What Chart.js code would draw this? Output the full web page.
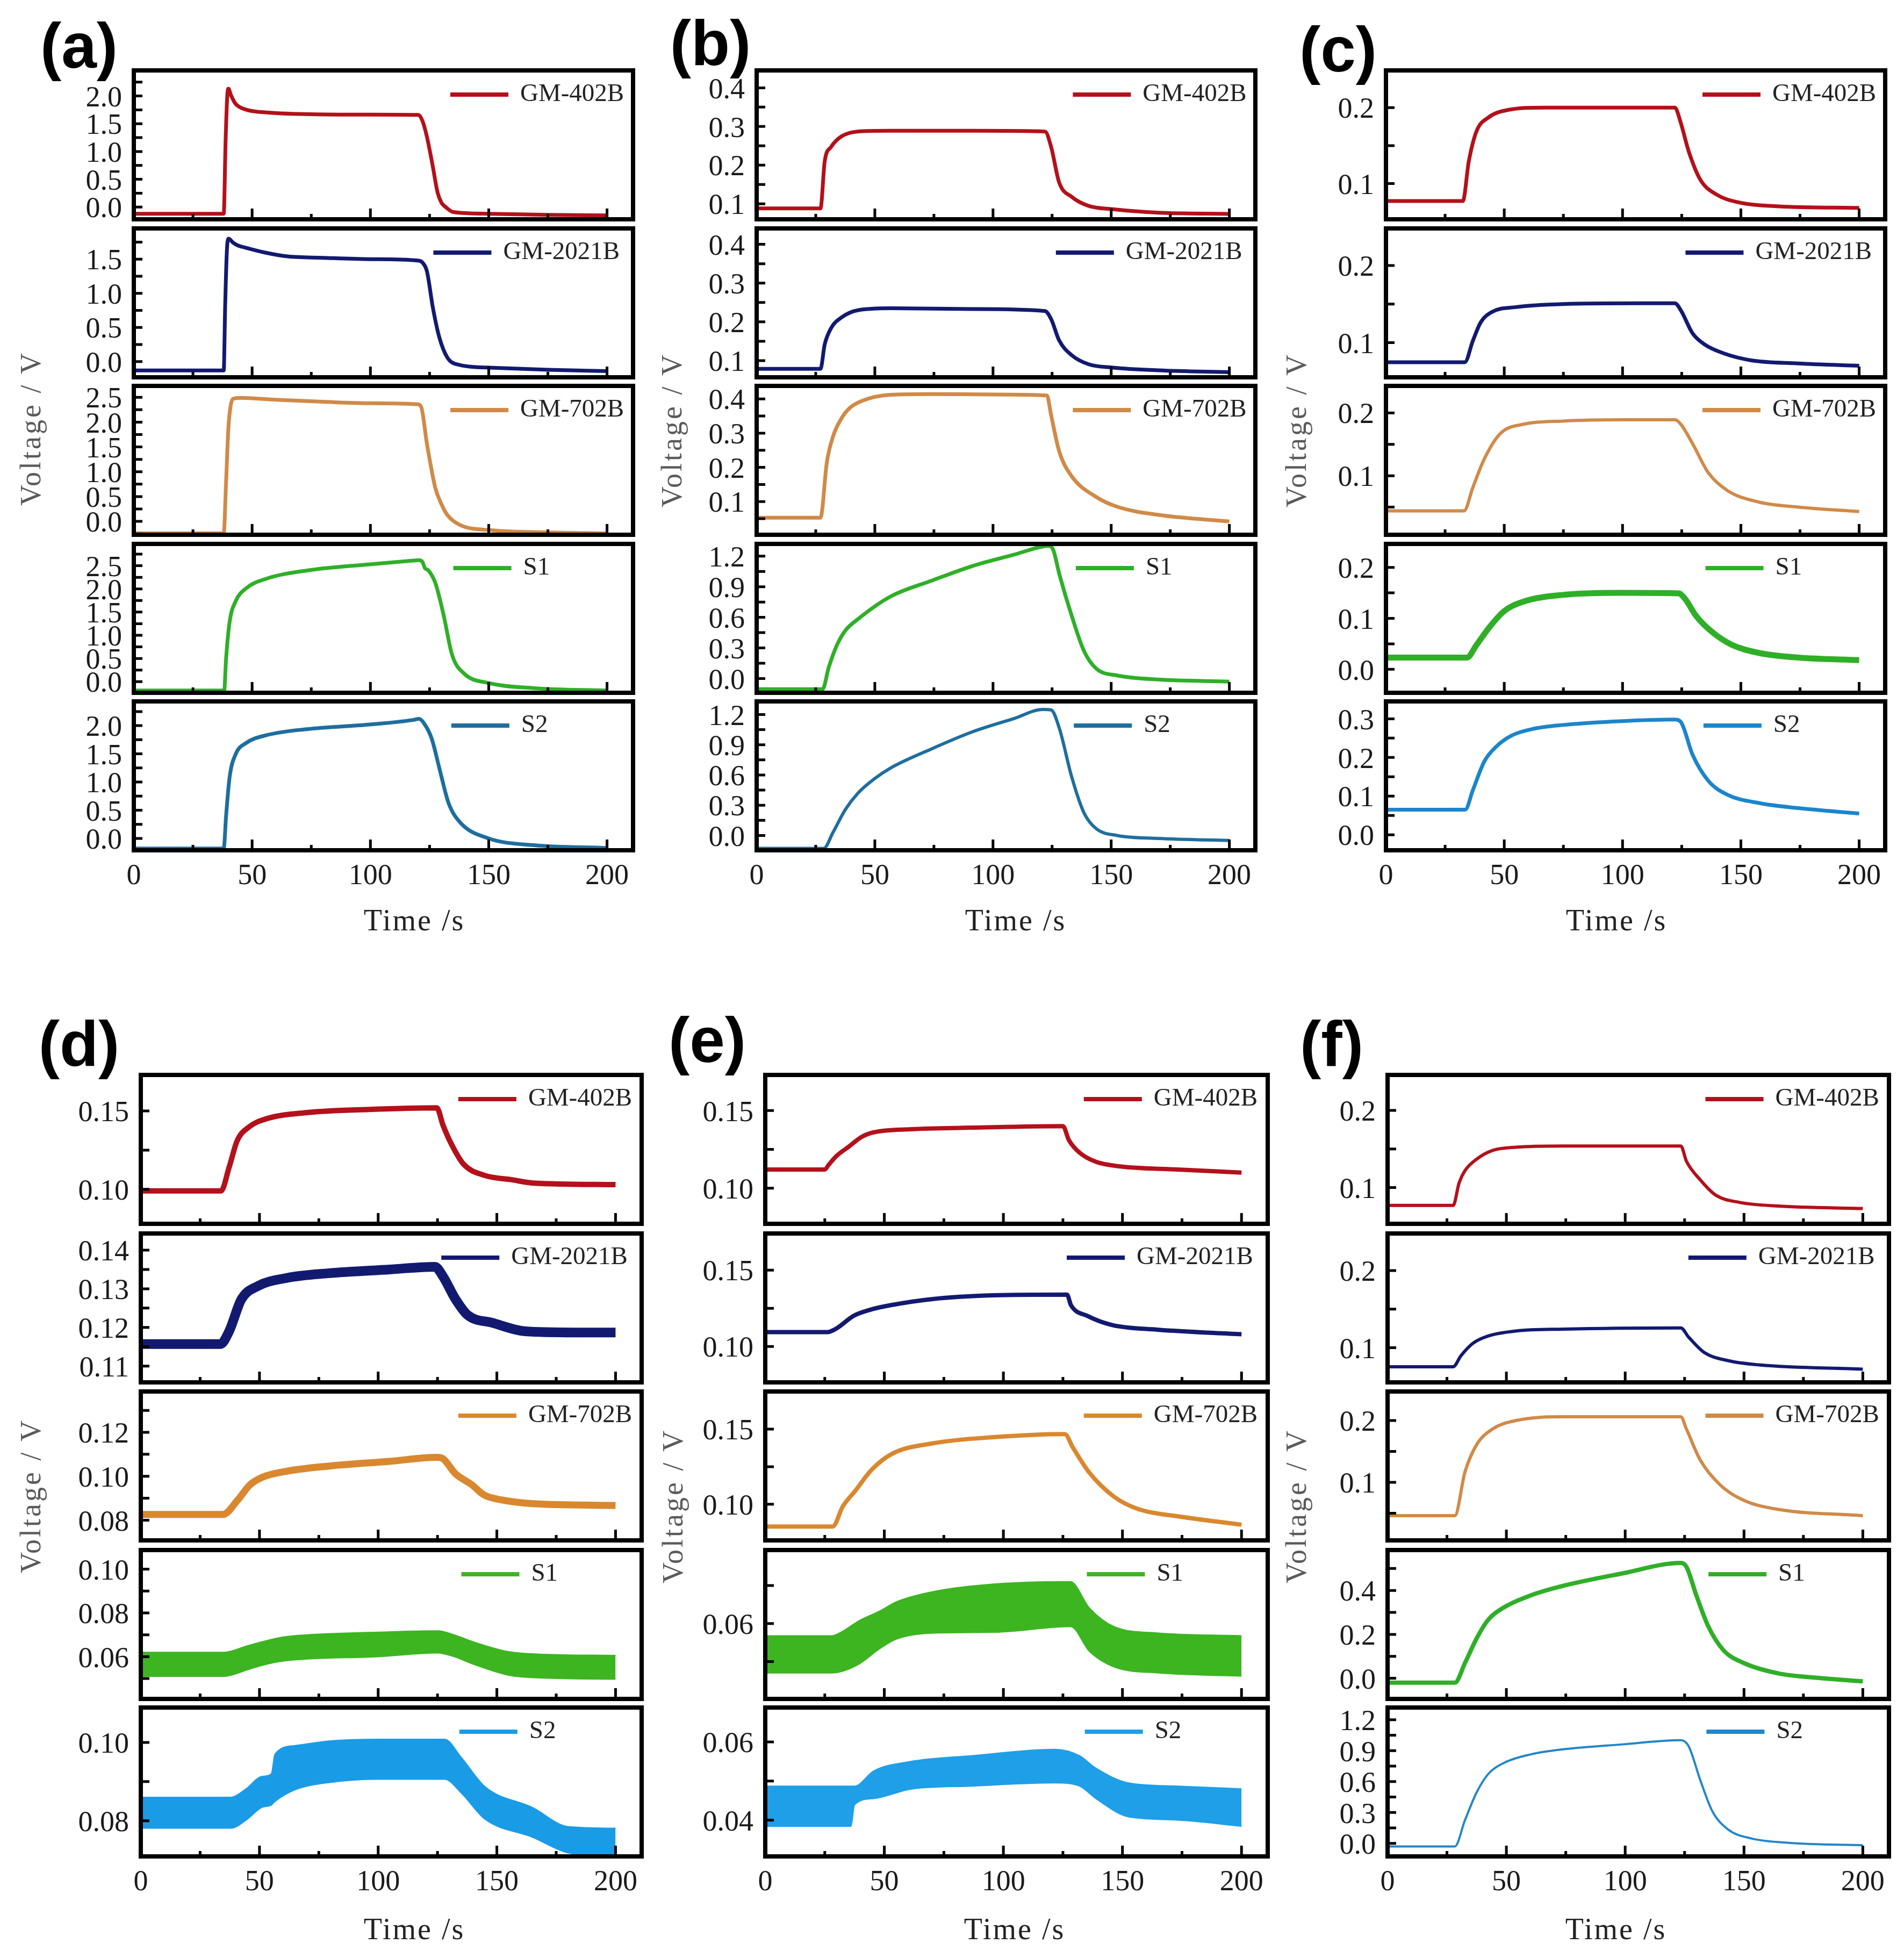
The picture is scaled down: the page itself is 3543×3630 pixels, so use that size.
<!DOCTYPE html>
<html>
<head>
<meta charset="utf-8">
<script src="https://cdn.jsdelivr.net/npm/chart.js"></script>
<style>
  html, body { margin: 0; padding: 0; background: #fff; }
  #page { position: relative; width: 3543px; height: 3630px; overflow: hidden; background: #fff; }
  .plab { position: absolute; font: bold 118px "Liberation Sans", Arial, sans-serif; line-height: 1; color: #000; transform: translate(-50%, -50%); white-space: nowrap; }
  .xtitle { position: absolute; font: 56px "Liberation Serif", serif; letter-spacing: 3px; line-height: 1; color: #222; transform: translate(-50%, -50%); white-space: nowrap; }
  .ytitle { position: absolute; font: 54px "Liberation Serif", serif; letter-spacing: 4px; line-height: 1; color: #5a5a5a; transform: translate(-50%, -50%) rotate(-90deg); white-space: nowrap; }
  canvas { position: absolute; }
</style>
</head>
<body>
<div id="page"></div>
<script>
// ---- data: [time s, voltage V] ----
const A_GM402B  = [[0,-0.12],[38,-0.12],[38.8,1.2],[39.5,2.0],[40,2.13],[41,2.02],[43,1.86],[47,1.76],[57,1.70],[77,1.67],[100,1.665],[120.3,1.66],[122,1.55],[123.8,1.28],[126.2,0.77],[128.4,0.26],[130,0.08],[131.8,0.0],[135,-0.09],[150,-0.12],[175,-0.14],[200,-0.15]];
const A_GM2021B = [[0,-0.13],[38,-0.13],[38.6,0.8],[39.3,1.6],[40,1.80],[42,1.74],[44,1.70],[47,1.67],[55,1.60],[65,1.54],[80,1.52],[100,1.50],[120,1.48],[122,1.45],[123.9,1.32],[126.4,0.79],[129,0.37],[132.5,0.06],[137.8,-0.05],[151.7,-0.09],[175,-0.12],[200,-0.14]];
const A_GM702B  = [[0,-0.24],[38,-0.24],[39,0.8],[40,1.9],[41,2.35],[42,2.47],[45,2.49],[60,2.45],[80,2.41],[100,2.38],[120,2.36],[121.5,2.3],[123.9,1.56],[127.4,0.68],[130,0.35],[132.5,0.13],[137.8,-0.07],[151.7,-0.18],[175,-0.22],[200,-0.24]];
const A_S1      = [[0,-0.19],[38.2,-0.19],[39,0.5],[40.5,1.29],[43,1.73],[47.4,2.01],[56,2.22],[73.6,2.40],[99.7,2.53],[118,2.61],[120.5,2.62],[122,2.58],[123,2.45],[124.5,2.40],[127.5,2.12],[131,1.42],[134.5,0.58],[139.7,0.17],[150,-0.03],[169,-0.14],[200,-0.19]];
const A_S2      = [[0,-0.18],[38,-0.18],[39,0.4],[40.5,1.09],[43,1.49],[47.4,1.69],[56,1.83],[73.6,1.94],[99.7,2.02],[118,2.10],[120.5,2.12],[122.5,2.05],[125.9,1.77],[129.4,1.2],[133,0.63],[138,0.28],[150,0.0],[169,-0.12],[200,-0.17]];

const B_GM402B  = [[0,0.088],[27,0.088],[28.8,0.21],[31.5,0.247],[35.8,0.274],[42.8,0.287],[56.7,0.289],[91.5,0.289],[122,0.287],[124.6,0.247],[128,0.155],[133.3,0.118],[140.3,0.095],[150.7,0.086],[170,0.077],[200,0.074]];
const B_GM2021B = [[0,0.079],[27,0.079],[28.8,0.142],[31.5,0.184],[35.8,0.211],[42.8,0.23],[56.7,0.235],[91.5,0.233],[122,0.228],[124.6,0.207],[128,0.152],[133.3,0.114],[140.3,0.091],[150.7,0.082],[170,0.075],[200,0.07]];
const B_GM702B  = [[0,0.053],[27,0.053],[29.7,0.215],[32.3,0.29],[35.8,0.342],[39.3,0.373],[44.5,0.394],[56.7,0.412],[74.1,0.414],[100.2,0.413],[122.8,0.41],[124.6,0.352],[128,0.247],[133.3,0.174],[143.8,0.113],[152.5,0.085],[170,0.061],[200,0.042]];
const B_S1      = [[0,-0.104],[27.9,-0.104],[30.5,0.11],[34,0.33],[37.5,0.47],[42.7,0.58],[56.7,0.805],[74.1,0.96],[91.5,1.105],[108.9,1.215],[121.1,1.295],[123.5,1.3],[125.5,1.26],[128.1,1.02],[133.3,0.615],[138.5,0.27],[143.8,0.095],[152.5,0.03],[170,-0.01],[200,-0.03]];
const B_S2      = [[0,-0.128],[28.4,-0.128],[32.3,0.03],[37.5,0.256],[42.7,0.416],[49.7,0.56],[56.7,0.67],[74.1,0.86],[91.5,1.03],[108.9,1.16],[121.1,1.25],[124.6,1.245],[128.1,1.06],[133.3,0.58],[138.5,0.224],[143.8,0.065],[152.5,0.0],[170,-0.03],[200,-0.05]];

const C_GM402B  = [[0,0.077],[32.5,0.077],[35,0.129],[38.3,0.169],[43.3,0.187],[51.6,0.197],[66.5,0.2],[108,0.2],[122.1,0.2],[124.6,0.18],[127.9,0.143],[132.9,0.105],[139.5,0.086],[149.4,0.075],[166,0.07],[200,0.068]];
const C_GM2021B = [[0,0.0745],[33.3,0.0745],[36.7,0.102],[40,0.126],[45,0.14],[54.9,0.146],[74.8,0.15],[108,0.151],[122.1,0.151],[124.6,0.142],[129.6,0.112],[134.5,0.098],[142.8,0.086],[154.4,0.077],[174.3,0.073],[200,0.07]];
const C_GM702B  = [[0,0.044],[33,0.044],[36.7,0.081],[41.6,0.127],[48.3,0.167],[58.2,0.182],[74.8,0.187],[99.7,0.189],[122.1,0.189],[124.6,0.182],[129.6,0.151],[136.2,0.105],[144.5,0.076],[157.7,0.058],[174.3,0.05],[200,0.043]];
const C_S1      = [[0,0.023],[34.2,0.023],[38.3,0.048],[43.3,0.08],[49.9,0.114],[58.2,0.133],[74.8,0.146],[99.7,0.15],[123.7,0.149],[126.3,0.139],[131.2,0.104],[137.9,0.073],[146.2,0.048],[157.8,0.032],[174.3,0.023],[200,0.018]];
const C_S2      = [[0,0.065],[33.5,0.065],[36.7,0.115],[41.6,0.19],[46.6,0.228],[53.2,0.257],[61.5,0.273],[74.8,0.284],[99.7,0.294],[122.1,0.298],[124.6,0.292],[129.6,0.207],[136.2,0.14],[144.5,0.103],[157.8,0.082],[174.3,0.069],[200,0.055]];

const D_GM402B  = [[0,0.099],[33.8,0.099],[37.2,0.114],[40.6,0.131],[45.8,0.14],[52.8,0.145],[70.1,0.149],[96.1,0.151],[124.7,0.152],[127.3,0.141],[130.8,0.129],[136,0.116],[144.6,0.109],[156.8,0.106],[165.4,0.104],[200,0.103]];
const D_GM2021B = [[0,0.1157],[33.5,0.1157],[37.2,0.119],[42.4,0.1273],[49.3,0.1307],[61.5,0.1328],[78.8,0.134],[104.8,0.135],[123.9,0.1357],[127.3,0.1332],[132.5,0.1274],[137.7,0.1232],[148.1,0.1212],[162,0.119],[182.8,0.1187],[200,0.1187]];
const D_GM702B  = [[0,0.0826],[34.6,0.0826],[40.7,0.089],[45.9,0.096],[51.1,0.0995],[61.5,0.1023],[78.8,0.1046],[104.8,0.1068],[124.7,0.1086],[127.3,0.108],[132.5,0.1012],[139.5,0.0961],[144.6,0.0915],[151.6,0.0893],[165.4,0.0875],[200,0.0867]];
// noisy traces: [time, upper edge, lower edge]
const D_S1      = [[0,0.062,0.051],[35,0.062,0.051],[45,0.065,0.054],[51,0.0668,0.056],[60,0.069,0.058],[70,0.070,0.0589],[100,0.0712,0.060],[125,0.0718,0.0617],[132,0.070,0.060],[140,0.0668,0.0566],[155,0.0623,0.0515],[170,0.0611,0.0502],[200,0.0606,0.0497]];
const D_S2      = [[0,0.086,0.0781],[38,0.086,0.0781],[44,0.088,0.080],[51,0.0913,0.0834],[55,0.092,0.084],[56.5,0.097,0.0849],[65,0.0992,0.0879],[80,0.1004,0.0898],[100,0.1008,0.0906],[128,0.1008,0.0906],[135,0.0962,0.0871],[145,0.0887,0.0804],[165,0.0834,0.0758],[180,0.0785,0.0718],[200,0.0781,0.0709]];

const E_GM402B  = [[0,0.112],[25,0.112],[26.6,0.115],[30.1,0.121],[35.3,0.127],[40.4,0.133],[45.6,0.136],[61.1,0.138],[87,0.139],[125,0.14],[127.5,0.131],[131.9,0.123],[138.8,0.117],[149.1,0.114],[173.3,0.112],[200,0.110]];
const E_GM2021B = [[0,0.1094],[26,0.1094],[30.1,0.112],[37,0.12],[43.9,0.124],[52.5,0.127],[69.8,0.131],[95.6,0.1335],[126.7,0.134],[128.4,0.127],[135.3,0.12],[145.7,0.114],[164.6,0.111],[200,0.108]];
const E_GM702B  = [[0,0.0852],[28.3,0.0852],[32.6,0.0987],[37.8,0.109],[44.7,0.123],[53.3,0.1336],[70.6,0.1406],[96.4,0.1447],[125.8,0.1467],[129.2,0.1377],[136.1,0.121],[146.5,0.105],[156.8,0.0967],[174.1,0.0918],[200,0.0864]];
const E_S1      = [[0,0.0568,0.047],[28,0.0568,0.047],[32.6,0.058,0.0475],[39.5,0.0608,0.0494],[48.1,0.0633,0.0534],[55,0.0657,0.0559],[70.6,0.0684,0.0575],[96.4,0.0704,0.0577],[128.2,0.0710,0.0592],[136.1,0.0641,0.0527],[146.5,0.0592,0.0486],[165.4,0.0575,0.047],[200,0.0568,0.0462]];
const E_S2      = [[0,0.0487,0.0384],[36,0.0487,0.0384],[37.5,0.0487,0.0439],[45.6,0.0526,0.0455],[61.1,0.055,0.0479],[87,0.0565,0.0487],[121.5,0.0581,0.0495],[131.9,0.0565,0.0487],[138.8,0.0533,0.0455],[152.6,0.0495,0.0408],[173.3,0.0487,0.04],[200,0.048,0.0384]];

const F_GM402B  = [[0,0.0768],[27.6,0.0768],[30.1,0.106],[32.6,0.122],[37.5,0.1368],[44.1,0.148],[54,0.1523],[73.8,0.1539],[123.4,0.1539],[125.8,0.134],[131.6,0.11],[138.2,0.09],[148.1,0.0808],[164.6,0.076],[200,0.0728]];
const F_GM2021B = [[0,0.0752],[27.6,0.0752],[30.9,0.0896],[35.9,0.1056],[42.4,0.1152],[54,0.1216],[73.8,0.124],[123.4,0.1256],[126.7,0.1136],[133.3,0.0936],[143.2,0.0832],[156.4,0.0776],[200,0.072]];
const F_GM702B  = [[0,0.046],[28.3,0.046],[32.6,0.117],[37.5,0.161],[44.1,0.1861],[54,0.2],[73.8,0.206],[123.4,0.206],[125.8,0.186],[131.6,0.136],[139.9,0.096],[149.8,0.071],[164.6,0.056],[200,0.046]];
const F_S1      = [[0,-0.02],[28.3,-0.02],[32.6,0.07],[37.5,0.182],[42.4,0.267],[49,0.323],[60.6,0.379],[73.8,0.421],[98.5,0.477],[123.4,0.525],[125.8,0.507],[129.9,0.379],[134.9,0.238],[141.5,0.126],[149.8,0.07],[164.6,0.022],[181.1,0.002],[200,-0.014]];
const F_S2      = [[0,-0.03],[28.3,-0.03],[32.6,0.227],[37.5,0.496],[42.4,0.675],[49,0.782],[60.6,0.866],[73.8,0.913],[98.5,0.961],[123.4,1.002],[126.7,0.943],[131.6,0.615],[136.6,0.316],[143.2,0.137],[153.1,0.048],[169.6,0.005],[200,-0.018]];

// ---- axes ----
const SERIES_NAMES = ['GM-402B', 'GM-2021B', 'GM-702B', 'S1', 'S2'];
const X_LABELS = ['0', '50', '100', '150', '200'];
const X_RANGE = [0, 211];

const A_YRANGE = [[-0.22,2.46],[-0.23,1.95],[-0.27,2.73],[-0.24,2.97],[-0.21,2.43]];
const A_YLABELS = [['0.0','0.5','1.0','1.5','2.0'],['0.0','0.5','1.0','1.5'],['0.0','0.5','1.0','1.5','2.0','2.5'],['0.0','0.5','1.0','1.5','2.0','2.5'],['0.0','0.5','1.0','1.5','2.0']];
const A_YMINOR = [0.25,0.25,0.25,0.25,0.25];

const B_YRANGE = [[0.06,0.445],[0.057,0.441],[0.003,0.438],[-0.14,1.32],[-0.147,1.33]];
const B_YLABELS = [['0.1','0.2','0.3','0.4'],['0.1','0.2','0.3','0.4'],['0.1','0.2','0.3','0.4'],['0.0','0.3','0.6','0.9','1.2'],['0.0','0.3','0.6','0.9','1.2']];
const B_YMINOR = [0.05,0.05,0.05,0.15,0.15];

const C_YRANGE = [[0.053,0.249],[0.055,0.248],[0.006,0.243],[-0.046,0.246],[-0.04,0.345]];
const C_YLABELS = [['0.1','0.2'],['0.1','0.2'],['0.1','0.2'],['0.0','0.1','0.2'],['0.0','0.1','0.2','0.3']];
const C_YMINOR = [0.05,0.05,0.05,0.05,0.05];

const D_YRANGE = [[0.078,0.173],[0.1058,0.1443],[0.0708,0.1386],[0.0407,0.1087],[0.0709,0.1089]];
const D_YLABELS = [['0.10','0.15'],['0.11','0.12','0.13','0.14'],['0.08','0.10','0.12'],['0.06','0.08','0.10'],['0.08','0.10']];
const D_YMINOR = [0.025,0.005,0.01,0.01,0.01];

const E_YRANGE = [[0.077,0.173],[0.0765,0.174],[0.076,0.175],[0.0402,0.0793],[0.0307,0.0688]];
const E_YLABELS = [['0.10','0.15'],['0.10','0.15'],['0.10','0.15'],['0.06'],['0.04','0.06']];
const E_YMINOR = [0.025,0.025,0.025,0.01,0.01];

const F_YRANGE = [[0.053,0.246],[0.055,0.248],[0.006,0.247],[-0.094,0.584],[-0.126,1.319]];
const F_YLABELS = [['0.1','0.2'],['0.1','0.2'],['0.1','0.2'],['0.0','0.2','0.4'],['0.0','0.3','0.6','0.9','1.2']];
const F_YMINOR = [0.05,0.05,0.05,0.1,0.15];

// ---- layout / style ----
const FRAME_H = 277;
const ROW_TOPS_UP = [131, 424.5, 718, 1011.5, 1305];
const ROW_TOPS_DN = [2000, 2294.5, 2589, 2883.5, 3177];
const YW = 200, PAD = 8, XH = 80;
const LEG_X = [0.634, 0.600, 0.634, 0.640, 0.636];
const TICK_FONT = { family: 'Liberation Serif', size: 54 };
const RED = '#B3111B', NAVY = '#121A70', TAN = '#D08A48', GREEN = '#2FAF28';

const PANELS = [
  { tag: '(a)', left: 249, right: 1178, tops: ROW_TOPS_UP, series: [A_GM402B, A_GM2021B, A_GM702B, A_S1, A_S2],
    yr: A_YRANGE, yl: A_YLABELS, ym: A_YMINOR, colors: [RED, NAVY, TAN, GREEN, '#1E6E9E'], widths: [7,7,7,7,7],
    lab: [147, 85], xt: [771, 1712], yt: [57, 797] },
  { tag: '(b)', left: 1408, right: 2336, tops: ROW_TOPS_UP, series: [B_GM402B, B_GM2021B, B_GM702B, B_S1, B_S2],
    yr: B_YRANGE, yl: B_YLABELS, ym: B_YMINOR, colors: [RED, NAVY, TAN, GREEN, '#1F6E9E'], widths: [7,7,7,7,6],
    lab: [1322, 80], xt: [1890, 1712], yt: [1250, 800] },
  { tag: '(c)', left: 2579, right: 3508, tops: ROW_TOPS_UP, series: [C_GM402B, C_GM2021B, C_GM702B, C_S1, C_S2],
    yr: C_YRANGE, yl: C_YLABELS, ym: C_YMINOR, colors: [RED, NAVY, TAN, GREEN, '#1C85CC'], widths: [7,7,6,11,7],
    lab: [2490, 92], xt: [3008, 1712], yt: [2412, 800] },
  { tag: '(d)', left: 262, right: 1194, tops: ROW_TOPS_DN, series: [D_GM402B, D_GM2021B, D_GM702B, D_S1, D_S2],
    yr: D_YRANGE, yl: D_YLABELS, ym: D_YMINOR, colors: [RED, NAVY, '#D9882F', '#3CB521', '#1A9BE6'], widths: [10,18,13,2,2],
    lab: [147, 1942], xt: [771, 3589], yt: [57, 2783] },
  { tag: '(e)', left: 1424, right: 2359, tops: ROW_TOPS_DN, series: [E_GM402B, E_GM2021B, E_GM702B, E_S1, E_S2],
    yr: E_YRANGE, yl: E_YLABELS, ym: E_YMINOR, colors: [RED, NAVY, '#D9882F', '#3CB521', '#1E9FE8'], widths: [8,8,8,2,2],
    lab: [1316, 1935], xt: [1888, 3589], yt: [1252, 2802] },
  { tag: '(f)', left: 2582, right: 3515, tops: ROW_TOPS_DN, series: [F_GM402B, F_GM2021B, F_GM702B, F_S1, F_S2],
    yr: F_YRANGE, yl: F_YLABELS, ym: F_YMINOR, colors: [RED, NAVY, TAN, GREEN, '#2386C8'], widths: [6,6,6,8,4],
    lab: [2478, 1942], xt: [3007, 3589], yt: [2412, 2802] }
];

// frame, inward ticks and the little legend drawn over the plot area
const framePlugin = {
  id: 'frame',
  afterDatasetsDraw(chart, args, opts) {
    const { ctx, chartArea: a, scales: { x, y } } = chart;
    ctx.save();
    ctx.strokeStyle = '#000';
    ctx.lineWidth = 5;
    ctx.beginPath();
    x.ticks.forEach(t => {
      if (t.value <= 0) return;
      const px = x.getPixelForValue(t.value);
      const len = t.value % 50 === 0 ? 20 : 10;
      ctx.moveTo(px, a.bottom); ctx.lineTo(px, a.bottom - len);
    });
    y.ticks.forEach(t => {
      const py = y.getPixelForValue(t.value);
      ctx.moveTo(a.left, py); ctx.lineTo(a.left + 16, py);
    });
    ctx.stroke();
    ctx.lineWidth = 8;
    ctx.strokeRect(a.left, a.top, a.right - a.left, a.bottom - a.top);

    const lx = a.left + (a.right - a.left) * opts.legX;
    const ly = a.top + 45;
    ctx.strokeStyle = opts.color;
    ctx.lineWidth = 8;
    ctx.beginPath(); ctx.moveTo(lx, ly); ctx.lineTo(lx + 108, ly); ctx.stroke();
    ctx.fillStyle = '#222';
    ctx.font = '47px "Liberation Serif"';
    ctx.textBaseline = 'middle';
    ctx.fillText(opts.label, lx + 130, ly);
    ctx.restore();
  }
};

function pts(rows, col) { return rows.map(r => ({ x: r[0], y: r[col] })); }

function makeChart(page, p, row) {
  const bottom = row === 4;
  const w = p.right - p.left + YW + PAD;
  const h = FRAME_H + 2 * PAD + (bottom ? XH : 0);
  const canvas = document.createElement('canvas');
  canvas.width = w; canvas.height = h;
  canvas.style.cssText = `left:${p.left - YW}px;top:${p.tops[row] - PAD}px;width:${w}px;height:${h}px;`;
  page.appendChild(canvas);

  const rows = p.series[row];
  const color = p.colors[row];
  const base = { borderColor: color, pointRadius: 0, cubicInterpolationMode: 'monotone' };
  let datasets;
  if (rows[0].length === 3) {
    datasets = [
      { ...base, data: pts(rows, 1), borderWidth: 2, fill: '+1', backgroundColor: color },
      { ...base, data: pts(rows, 2), borderWidth: 2, fill: false }
    ];
  } else {
    datasets = [{ ...base, data: pts(rows, 1), borderWidth: p.widths[row], fill: false }];
  }

  const [ymin, ymax] = p.yr[row];
  const labels = p.yl[row];
  const minor = p.ym[row];
  const yTicks = [];
  for (let k = Math.ceil(ymin / minor - 1e-9); k * minor <= ymax + 1e-12; k++) {
    yTicks.push(Math.round(k * minor * 1e6) / 1e6);
  }
  const yLabel = v => {
    const hit = labels.find(s => Math.abs(parseFloat(s) - v) < minor * 1e-3);
    return hit || '';
  };
  const xLabel = v => X_LABELS.find(s => parseFloat(s) === v) || '';

  new Chart(canvas, {
    type: 'line',
    data: { datasets },
    options: {
      responsive: false,
      animation: false,
      devicePixelRatio: 1,
      layout: { padding: { top: PAD, right: PAD, bottom: PAD, left: 0 } },
      events: [],
      plugins: {
        legend: { display: false },
        tooltip: { enabled: false },
        frame: { label: SERIES_NAMES[row], color, legX: LEG_X[row] }
      },
      scales: {
        x: {
          type: 'linear', min: X_RANGE[0], max: X_RANGE[1],
          afterFit: s => { s.height = bottom ? XH : 0; s.paddingLeft = 0; s.paddingRight = 0; },
          afterBuildTicks: s => { s.ticks = [0, 25, 50, 75, 100, 125, 150, 175, 200].map(v => ({ value: v })); },
          grid: { display: false, drawTicks: false },
          border: { display: false },
          ticks: { display: bottom, autoSkip: false, maxRotation: 0, padding: 16, font: TICK_FONT, color: '#1a1a1a', callback: xLabel }
        },
        y: {
          type: 'linear', min: ymin, max: ymax,
          afterFit: s => { s.width = YW; s.paddingTop = 0; s.paddingBottom = 0; },
          afterBuildTicks: s => { s.ticks = yTicks.map(v => ({ value: v })); },
          grid: { display: false, drawTicks: false },
          border: { display: false },
          ticks: { autoSkip: false, padding: 22, labelOffset: 5, font: TICK_FONT, color: '#1a1a1a', callback: yLabel }
        }
      }
    },
    plugins: [framePlugin]
  });
}

function addText(page, cls, text, x, y) {
  const d = document.createElement('div');
  d.className = cls;
  d.textContent = text;
  d.style.left = x + 'px';
  d.style.top = y + 'px';
  page.appendChild(d);
}

const page = document.getElementById('page');
PANELS.forEach(p => {
  for (let r = 0; r < 5; r++) makeChart(page, p, r);
  addText(page, 'plab', p.tag, p.lab[0], p.lab[1]);
  addText(page, 'xtitle', 'Time /s', p.xt[0], p.xt[1]);
  addText(page, 'ytitle', 'Voltage / V', p.yt[0], p.yt[1]);
});
</script>
</body>
</html>
